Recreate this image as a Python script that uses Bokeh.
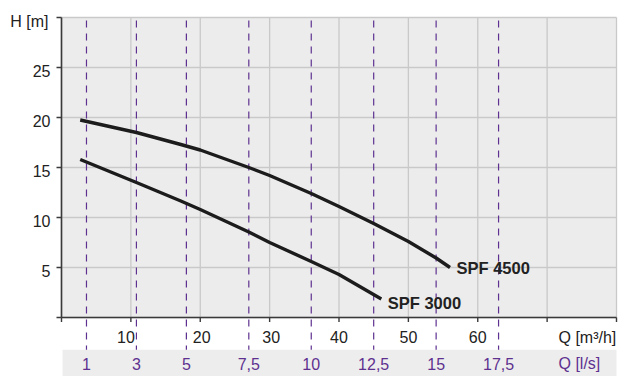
from bokeh.plotting import figure
from bokeh.models import Range1d
from bokeh.core.properties import value
from bokeh.embed import file_html
from bokeh.resources import INLINE

# ---- data ----
q_spf4500 = [2.7, 10.8, 17.2, 20, 27, 30, 36, 40, 45, 50, 54, 56]
h_spf4500 = [19.75, 18.5, 17.3, 16.75, 15.0, 14.2, 12.4, 11.1, 9.4, 7.6, 5.95, 5.0]
q_spf3000 = [2.7, 10.8, 17.2, 20, 27, 30, 36, 40, 46.1]
h_spf3000 = [15.8, 13.5, 11.65, 10.8, 8.55, 7.5, 5.6, 4.3, 1.85]
series_names = ["SPF 4500", "SPF 3000"]

q_m3h_ticks = [0, 10, 20, 30, 40, 50, 60, 70, 80]
q_m3h_label_values = [10, 20, 30, 40, 50, 60]
q_m3h_labels = ["10", "20", "30", "40", "50", "60"]
h_ticks = [0, 5, 10, 15, 20, 25, 30]
h_label_values = [5, 10, 15, 20, 25]
h_labels = ["5", "10", "15", "20", "25"]
q_ls_values = [1, 3, 5, 7.5, 10, 12.5, 15, 17.5]
q_ls_labels = ["1", "3", "5", "7,5", "10", "12,5", "15", "17,5"]
M3H_PER_LS = 3.6

# ---- layout / style ----
X_MAX, H_MAX = 80, 30
PX_X = 6.9375          # pixels per m3/h
PX_Y = 10.0            # pixels per m
X_START = -61 / PX_X
X_END = X_MAX + 13 / PX_X
Y_TOP = H_MAX + 17 / PX_Y
Y_BOTTOM = Y_TOP - 376 / PX_Y
BAND_TOP = -3.23
M3H_LABEL_Y = -1.97
LS_LABEL_Y = -4.63
TICK_X = 5 / PX_X
TICK_Y = 4.5 / PX_Y
FONT = "Liberation Sans"
PURPLE = "#5e3190"
DARK = "#222222"
AXIS = "#3a3a3a"

p = figure(width=629, height=376, x_range=Range1d(X_START, X_END), y_range=Range1d(Y_BOTTOM, Y_TOP),
           output_backend="svg", toolbar_location=None, x_axis_location=None, y_axis_location=None,
           min_border=0)
p.outline_line_color = None
p.grid.visible = False
p.background_fill_color = "white"
p.border_fill_color = "white"

# plot area background
p.quad(left=[0], right=[X_MAX], bottom=[0], top=[H_MAX], fill_color="#ececec", line_color=None)
# grid
p.segment(x0=q_m3h_ticks, y0=[0] * len(q_m3h_ticks), x1=q_m3h_ticks, y1=[H_MAX] * len(q_m3h_ticks),
          line_color="#c9c9c9", line_width=1.3)
p.segment(x0=[0] * len(h_ticks), y0=h_ticks, x1=[X_MAX] * len(h_ticks), y1=h_ticks,
          line_color="#c9c9c9", line_width=1.3)
# l/s band
p.quad(left=[0.15], right=[X_MAX], bottom=[Y_BOTTOM], top=[BAND_TOP], fill_color="#ededed", line_color=None)

# l/s dashed lines
ls_x = [v * M3H_PER_LS for v in q_ls_values]
p.segment(x0=ls_x, y0=[H_MAX] * len(ls_x), x1=ls_x, y1=[BAND_TOP] * len(ls_x),
          line_color=PURPLE, line_width=1.2, line_dash="7 6", line_dash_offset=-3)

# bottom axis (Q m3/h) at H=0
p.segment(x0=[0], y0=[0], x1=[X_MAX], y1=[0], line_color=AXIS, line_width=1.6)
p.segment(x0=q_m3h_ticks, y0=[0] * len(q_m3h_ticks), x1=q_m3h_ticks, y1=[-TICK_Y] * len(q_m3h_ticks),
          line_color=AXIS, line_width=1.4)
p.text(x=q_m3h_label_values, y=[M3H_LABEL_Y] * len(q_m3h_label_values), text=q_m3h_labels,
       x_offset=[-5, 1.5, 1.5, 0, 0, 0],
       text_font=value(FONT), text_font_size=value("16px"), text_color=DARK,
       text_align="center", text_baseline="middle")
p.text(x=[71.64], y=[M3H_LABEL_Y], text=["Q [m³/h]"], text_font=value(FONT),
       text_font_size=value("16px"), text_color=DARK, text_align="left", text_baseline="middle")

# left axis (H m)
p.segment(x0=[0], y0=[0], x1=[0], y1=[H_MAX], line_color=AXIS, line_width=1.6)
p.segment(x0=[0] * len(h_ticks), y0=h_ticks, x1=[-TICK_X] * len(h_ticks), y1=h_ticks,
          line_color=AXIS, line_width=1.4)
p.text(x=[0] * len(h_label_values), y=h_label_values, text=h_labels,
       x_offset=-11, y_offset=3.5,
       text_font=value(FONT), text_font_size=value("16px"), text_color=DARK,
       text_align="right", text_baseline="middle")
p.text(x=[-1.874], y=[29.65], text=["H [m]"], text_font=value(FONT),
       text_font_size=value("16px"), text_color=DARK, text_align="right", text_baseline="middle")

# l/s labels
p.text(x=ls_x, y=[LS_LABEL_Y] * len(ls_x), text=q_ls_labels,
       text_font=value(FONT), text_font_size=value("16px"), text_color=PURPLE,
       text_align="center", text_baseline="middle")
p.text(x=[71.64], y=[LS_LABEL_Y], text=["Q [l/s]"], text_font=value(FONT),
       text_font_size=value("16px"), text_color=PURPLE, text_align="left", text_baseline="middle")

# curves
p.line(q_spf4500, h_spf4500, line_color="#1c1c1c", line_width=3.4, line_join="round")
p.line(q_spf3000, h_spf3000, line_color="#1c1c1c", line_width=3.4, line_join="round")
p.text(x=[56.94, 47.03], y=[4.92, 1.45], text=series_names, text_font=value(FONT),
       text_font_style="bold", text_font_size=value("16.5px"), text_color=DARK,
       text_align="left", text_baseline="middle")

open("out.html", "w").write(file_html(p, INLINE))
